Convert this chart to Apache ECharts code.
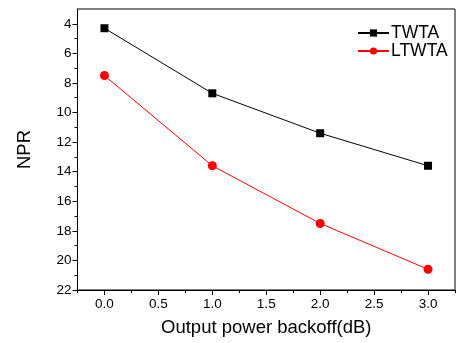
<!DOCTYPE html>
<html>
<head>
<meta charset="utf-8">
<script src="https://cdn.jsdelivr.net/npm/echarts@6/dist/echarts.min.js"></script>
<style>html,body{margin:0;padding:0;background:#fff}#c{width:458px;height:343px}</style>
</head>
<body>
<div id="c"></div>
<script>
var xValues = [0, 1, 2, 3];
var twta = [4.3, 8.7, 11.4, 13.6];
var ltwta = [7.5, 13.6, 17.5, 20.6];
var xMajorTicks = [0, 0.5, 1, 1.5, 2, 2.5, 3];
var xMinorTicks = [-0.25, 0.25, 0.75, 1.25, 1.75, 2.25, 2.75, 3.25];
var yMajorTicks = [4, 6, 8, 10, 12, 14, 16, 18, 20, 22];
var yMinorTicks = [5, 7, 9, 11, 13, 15, 17, 19, 21];
var seriesNames = ['TWTA', 'LTWTA'];

var font = 'Liberation Sans, Arial, sans-serif';
var chart = echarts.init(document.getElementById('c'));
function pairs(xs, ys) { return xs.map(function (x, i) { return [x, ys[i]]; }); }
chart.setOption({
  animation: false,
  grid: { left: 77.5, right: 3, top: 9, bottom: 53, show: true, borderColor: '#000', borderWidth: 1, backgroundColor: 'transparent' },
  legend: {
    orient: 'vertical', left: 352, top: 19, itemWidth: 31, itemHeight: 9, itemGap: 0,
    textStyle: { fontFamily: font, fontSize: 17.5, color: '#000', lineHeight: 17, padding: [0, 0, 0, -3] },
    data: seriesNames
  },
  xAxis: [{
    type: 'value', min: -0.25, max: 3.25, position: 'bottom',
    name: 'Output power backoff(dB)', nameLocation: 'middle', nameGap: 28,
    nameTextStyle: { fontFamily: font, fontSize: 18.5, color: '#000' },
    axisLine: { show: true, onZero: false, lineStyle: { color: '#000', width: 1 } },
    axisTick: { show: true, length: 5, customValues: xMajorTicks, lineStyle: { color: '#000' } },
    axisLabel: { customValues: xMajorTicks, margin: 7, fontFamily: font, fontSize: 13.5, color: '#000',
      formatter: function (v) { return v.toFixed(1); } },
    splitLine: { show: false }
  }, {
    type: 'value', min: -0.25, max: 3.25, position: 'bottom',
    axisLine: { show: false, onZero: false },
    axisTick: { show: true, length: 3, customValues: xMinorTicks, lineStyle: { color: '#000' } },
    axisLabel: { show: false }, splitLine: { show: false }
  }],
  yAxis: [{
    type: 'value', min: 3, max: 22, inverse: true, position: 'left',
    name: 'NPR', nameLocation: 'middle', nameGap: 43,
    nameTextStyle: { fontFamily: font, fontSize: 18.5, color: '#000' },
    axisLine: { show: true, onZero: false, lineStyle: { color: '#000', width: 1 } },
    axisTick: { show: true, length: 5, customValues: yMajorTicks, lineStyle: { color: '#000' } },
    axisLabel: { customValues: yMajorTicks, margin: 6, fontFamily: font, fontSize: 13.5, color: '#000' },
    splitLine: { show: false }
  }, {
    type: 'value', min: 3, max: 22, inverse: true, position: 'left',
    axisLine: { show: false, onZero: false },
    axisTick: { show: true, length: 3, customValues: yMinorTicks, lineStyle: { color: '#000' } },
    axisLabel: { show: false }, splitLine: { show: false }
  }],
  series: [{
    name: seriesNames[0], type: 'line', data: pairs(xValues, twta),
    symbol: 'rect', symbolSize: 8, color: '#000',
    lineStyle: { color: '#000', width: 1 }, itemStyle: { color: '#000' }
  }, {
    name: seriesNames[1], type: 'line', data: pairs(xValues, ltwta),
    symbol: 'circle', symbolSize: 9, color: '#ff0000',
    lineStyle: { color: '#ff0000', width: 1 }, itemStyle: { color: '#ff0000' }
  }]
});
</script>
</body>
</html>
